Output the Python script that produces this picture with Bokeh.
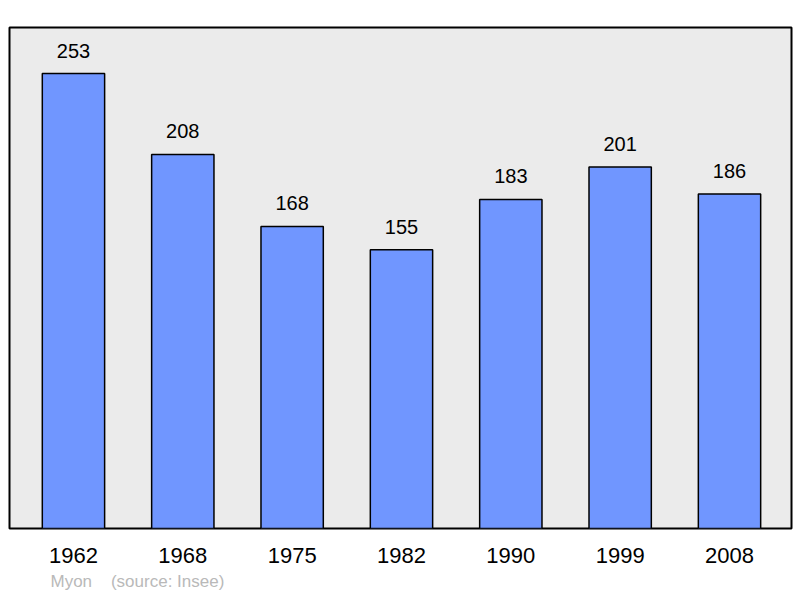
from bokeh.plotting import figure
from bokeh.models import ColumnDataSource, FixedTicker, Title, Range1d
from bokeh.core.properties import value
from bokeh.embed import file_html
from bokeh.resources import INLINE

years = ["1962", "1968", "1975", "1982", "1990", "1999", "2008"]
population = [253, 208, 168, 155, 183, 201, 186]
footer = "Myon    (source: Insee)"

idx = list(range(len(years)))
src = ColumnDataSource(dict(x=idx, top=population, lab=[str(v) for v in population]))

p = figure(width=800, height=598, output_backend="svg", toolbar_location=None,
           x_range=Range1d(-0.585, len(years) - 1 + 0.567), y_range=Range1d(0, 278.6),
           min_border_left=9, min_border_right=9, min_border_top=27, min_border_bottom=70)
p.background_fill_color = "#ebebeb"
p.border_fill_color = "white"
p.outline_line_color = "black"
p.outline_line_width = 2
p.grid.visible = False
p.yaxis.visible = False

p.vbar(x="x", top="top", width=0.57, bottom=0, source=src,
       fill_color="#7096ff", line_color="black", line_width=1.5)
p.text(x="x", y="top", text="lab", source=src, text_align="center",
       text_baseline="alphabetic", y_offset=-23, text_font=value("Liberation Sans"),
       text_font_size="20px", text_color="black")

ax = p.xaxis[0]
ax.ticker = FixedTicker(ticks=idx)
ax.major_label_overrides = {i: y for i, y in zip(idx, years)}
ax.axis_line_color = None
ax.major_tick_line_color = None
ax.minor_tick_line_color = None
ax.major_label_text_font = "Liberation Sans"
ax.major_label_text_font_size = "22px"
ax.major_label_text_color = "black"
ax.major_label_standoff = 13

p.add_layout(Title(text=footer.replace(" ", "\u00a0"), align="left", offset=41, standoff=8,
                   text_font="Liberation Sans", text_font_size="17px",
                   text_font_style="normal", text_color="#b9b9b9"), "below")

open("out.html", "w").write(file_html(p, INLINE))
